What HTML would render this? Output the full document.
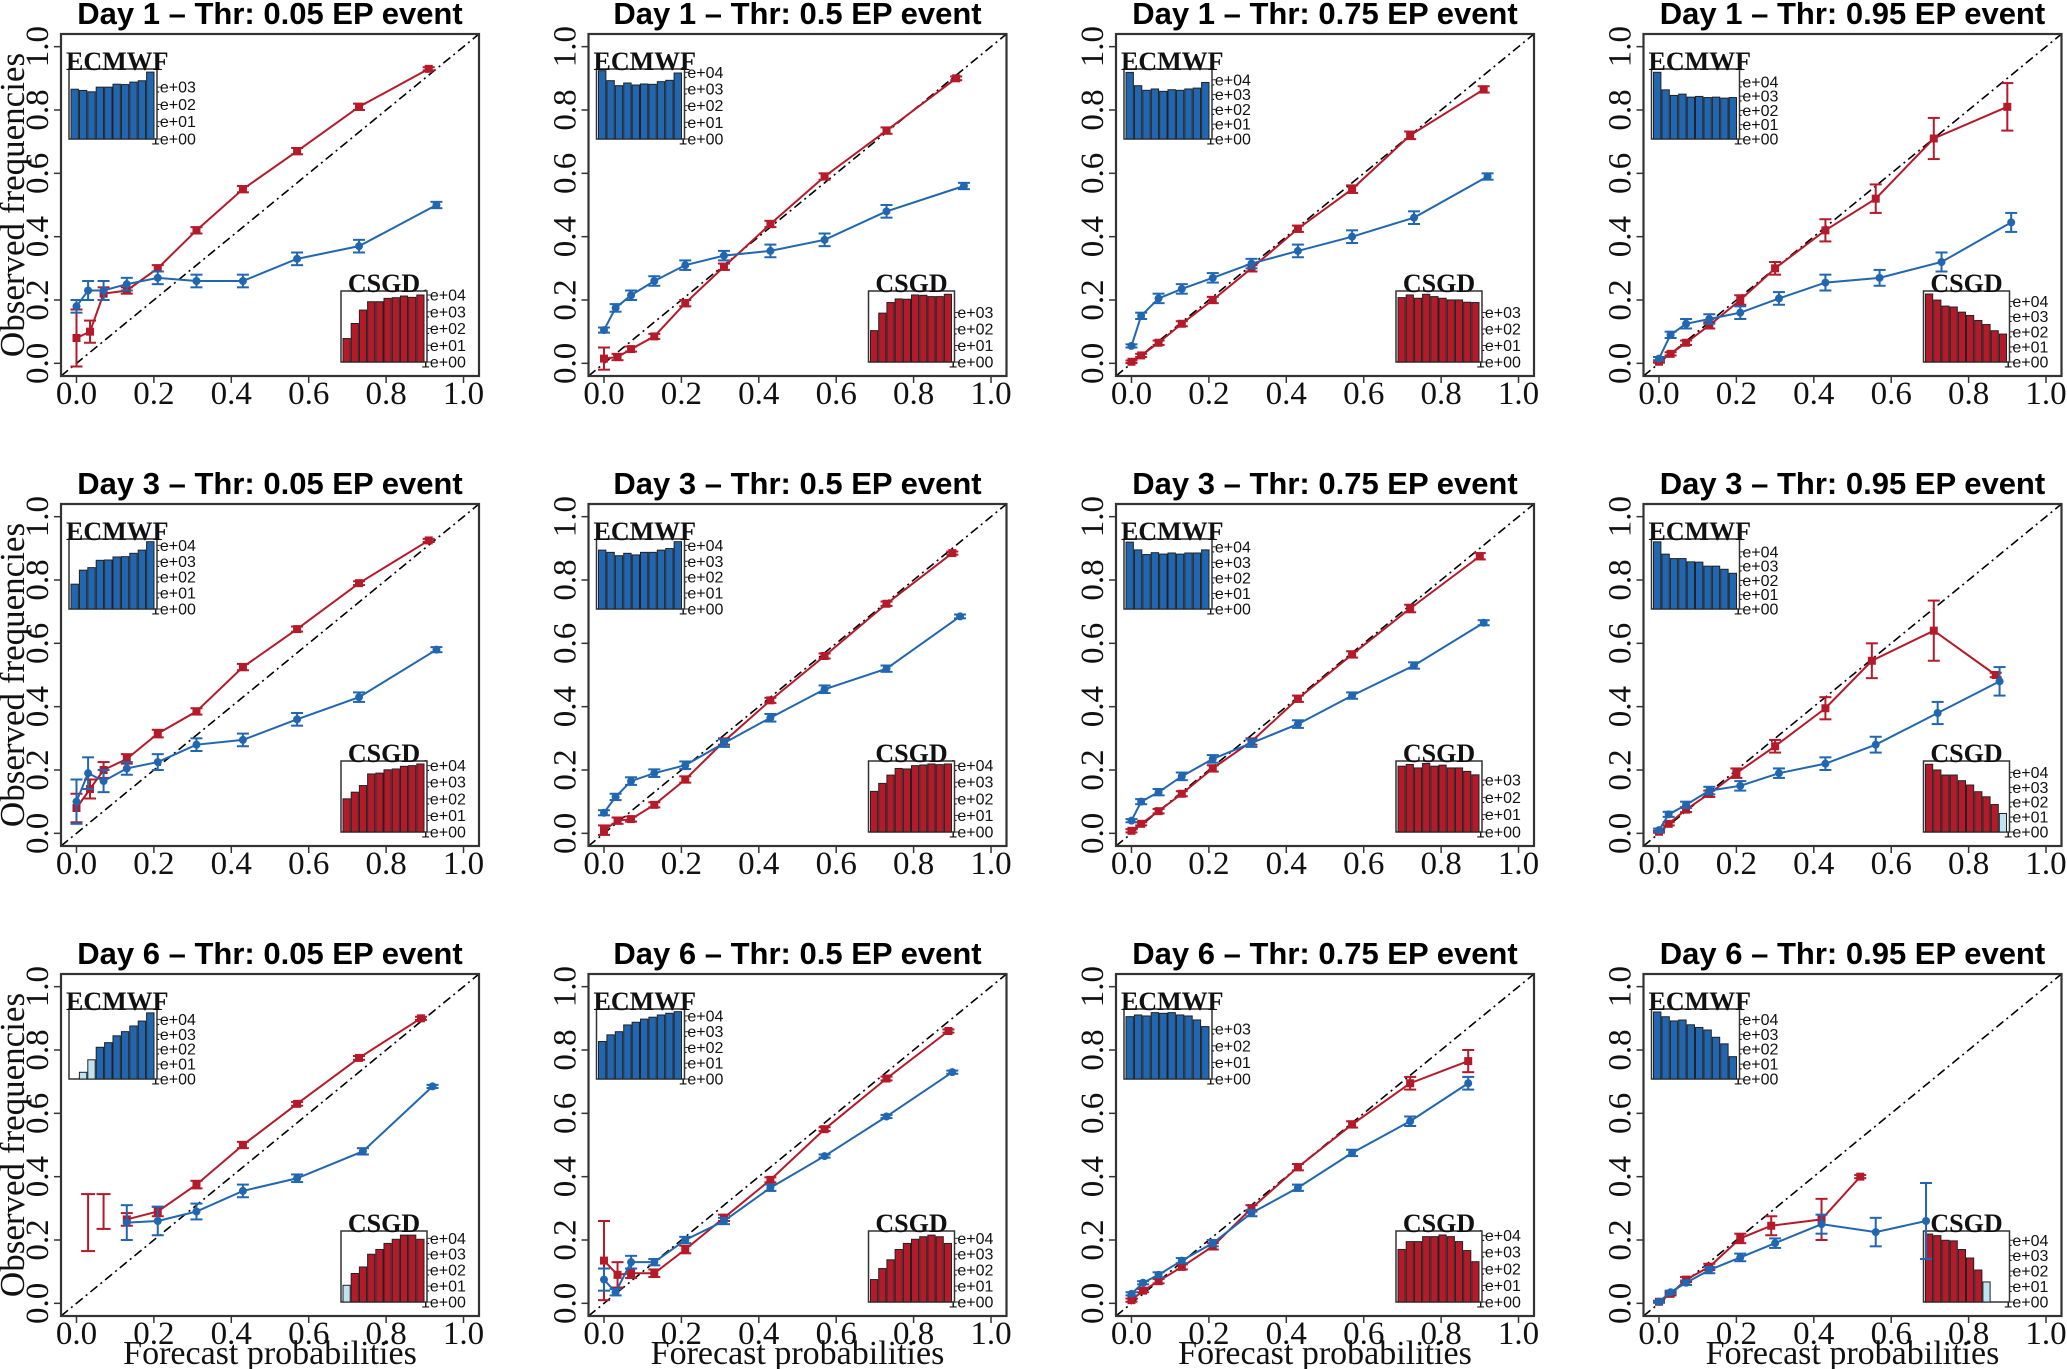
<!DOCTYPE html>
<html><head><meta charset="utf-8">
<style>
html,body{margin:0;padding:0;background:#fff;}
svg{display:block;}
</style></head>
<body>
<svg id="chart" width="2067" height="1369" viewBox="0 0 2067 1369" xmlns="http://www.w3.org/2000/svg"></svg>
<script>
const titles = ["Day 1 \u2013 Thr: 0.05 EP event","Day 1 \u2013 Thr: 0.5 EP event","Day 1 \u2013 Thr: 0.75 EP event","Day 1 \u2013 Thr: 0.95 EP event",
"Day 3 \u2013 Thr: 0.05 EP event","Day 3 \u2013 Thr: 0.5 EP event","Day 3 \u2013 Thr: 0.75 EP event","Day 3 \u2013 Thr: 0.95 EP event",
"Day 6 \u2013 Thr: 0.05 EP event","Day 6 \u2013 Thr: 0.5 EP event","Day 6 \u2013 Thr: 0.75 EP event","Day 6 \u2013 Thr: 0.95 EP event"];
const xTicks = [0,0.2,0.4,0.6,0.8,1.0];
const xTickLabels = ["0.0","0.2","0.4","0.6","0.8","1.0"];
const yTicks = [0,0.2,0.4,0.6,0.8,1.0];
const yTickLabels = ["0.0","0.2","0.4","0.6","0.8","1.0"];
const ecmX = [
[0,.03,.07,.13,.21,.31,.43,.57,.73,.93],[0,.03,.07,.13,.21,.31,.43,.57,.73,.93],[0,.025,.07,.13,.21,.31,.43,.57,.73,.92],[0,.03,.07,.13,.21,.31,.43,.57,.73,.91],
[0,.03,.07,.13,.21,.31,.43,.57,.73,.93],[0,.03,.07,.13,.21,.31,.43,.57,.73,.92],[0,.025,.07,.13,.21,.31,.43,.57,.73,.91],[0,.025,.07,.13,.21,.31,.43,.56,.72,.88],
[.13,.21,.31,.43,.57,.74,.92],[0,.03,.07,.13,.21,.31,.43,.57,.73,.90],[0,.03,.07,.13,.21,.31,.43,.57,.72,.87],[0,.03,.07,.13,.21,.30,.42,.56,.69]];
const ecmY = [
[.18,.23,.23,.25,.27,.26,.26,.33,.37,.50],[.105,.175,.215,.26,.31,.34,.355,.39,.48,.56],[.055,.15,.205,.235,.27,.315,.355,.40,.46,.59],[.015,.09,.125,.14,.16,.205,.255,.27,.32,.445],
[.10,.19,.165,.205,.225,.28,.295,.36,.43,.58],[.065,.115,.165,.19,.215,.285,.365,.455,.52,.685],[.04,.10,.13,.18,.235,.285,.345,.435,.53,.665],[.01,.06,.09,.135,.15,.19,.22,.28,.38,.48],
[.255,.26,.29,.355,.395,.48,.685],[.075,.035,.13,.13,.20,.26,.365,.465,.59,.73],[.03,.065,.09,.135,.19,.285,.365,.475,.575,.695],[.005,.035,.065,.105,.145,.19,.25,.225,.26]];
const ecmErr = [
[.02,.03,.03,.02,.02,.02,.02,.02,.02,.01],[.008,.012,.015,.015,.015,.015,.02,.02,.02,.01],[.005,.01,.015,.015,.015,.015,.02,.02,.02,.01],[.005,.01,.015,.015,.02,.02,.025,.025,.03,.03],
[.07,.05,.035,.02,.025,.02,.02,.02,.015,.008],[.008,.01,.012,.012,.012,.012,.012,.012,.01,.006],[.005,.008,.01,.012,.012,.012,.012,.01,.01,.008],[.005,.008,.01,.012,.015,.015,.02,.025,.035,.045],
[.055,.045,.025,.02,.012,.01,.005],[.035,.01,.02,.01,.01,.01,.01,.005,.005,.005],[.005,.005,.008,.008,.01,.01,.01,.01,.015,.02],[.003,.005,.007,.01,.012,.015,.03,.045,.12]];
const csgX = [
[0,.035,.07,.13,.21,.31,.43,.57,.73,.91],[0,.035,.07,.13,.21,.31,.43,.57,.73,.91],[0,.025,.07,.13,.21,.31,.43,.57,.72,.91],[0,.03,.07,.13,.21,.30,.43,.56,.71,.90],
[0,.035,.07,.13,.21,.31,.43,.57,.73,.91],[0,.035,.07,.13,.21,.31,.43,.57,.73,.90],[0,.025,.07,.13,.21,.31,.43,.57,.72,.90],[0,.025,.07,.13,.20,.30,.43,.55,.71,.87],
[.13,.21,.31,.43,.57,.73,.89],[0,.035,.07,.13,.21,.31,.43,.57,.73,.89],[0,.03,.07,.13,.21,.31,.43,.57,.72,.87],[0,.03,.07,.13,.21,.29,.42,.52]];
const csgY = [
[.08,.10,.22,.23,.30,.42,.55,.67,.81,.93],[.015,.02,.045,.085,.19,.305,.44,.59,.735,.90],[.005,.025,.065,.125,.20,.30,.425,.55,.72,.865],[.005,.03,.065,.12,.20,.30,.42,.52,.71,.81],
[.08,.14,.20,.235,.315,.385,.525,.645,.79,.925],[.01,.04,.045,.09,.17,.29,.42,.56,.725,.885],[.008,.03,.07,.125,.205,.29,.425,.565,.71,.875],[.005,.03,.075,.125,.19,.275,.395,.545,.64,.50],
[.265,.29,.375,.50,.63,.775,.90],[.135,.09,.095,.095,.17,.27,.39,.55,.71,.86],[.01,.04,.07,.115,.18,.30,.43,.565,.695,.765],[.005,.03,.075,.115,.205,.245,.265,.40]];
const csgErr = [
[.09,.035,.02,.01,.01,.01,.01,.01,.01,.005],[.035,.01,.008,.008,.01,.01,.01,.01,.01,.006],[.004,.005,.007,.008,.01,.01,.01,.012,.012,.01],[.003,.005,.007,.01,.015,.02,.035,.045,.065,.075],
[.045,.03,.025,.015,.012,.01,.01,.008,.006,.005],[.015,.01,.008,.008,.01,.01,.008,.008,.007,.005],[.005,.005,.007,.008,.01,.01,.01,.01,.012,.01],[.003,.005,.008,.01,.015,.02,.035,.055,.095,.007],
[.02,.015,.012,.01,.006,.006,.005],[.125,.04,.015,.012,.012,.01,.008,.006,.006,.005],[.005,.005,.007,.008,.01,.01,.01,.01,.02,.035],[.003,.005,.008,.01,.015,.03,.065,.005]];
// error bars without a plotted point: [panel, x, low, high]
const csgLoneBars = [[8,.03,.165,.345],[8,.07,.235,.345]];
// inset histograms, log10 counts
const ecmBars = [
[2.88,2.81,2.73,3.0,3.0,3.17,3.15,3.29,3.37,3.87],[4.1,3.5,3.2,3.36,3.24,3.3,3.28,3.44,3.52,3.96],[4.5,3.6,3.29,3.38,3.22,3.33,3.29,3.38,3.44,3.82],[4.67,3.44,3.05,3.14,2.93,2.98,2.9,2.93,2.86,2.9],
[1.56,2.44,2.6,3.06,3.08,3.27,3.29,3.5,3.7,4.23],[3.7,3.56,3.35,3.5,3.4,3.56,3.56,3.7,3.8,4.23],[4.3,3.8,3.5,3.62,3.53,3.6,3.53,3.6,3.6,3.8],[4.7,3.84,3.53,3.53,3.3,3.28,3.0,3.0,2.78,2.5],
[0,0.45,1.29,2.13,2.44,2.9,3.18,3.56,3.89,4.44],[2.38,2.8,3.0,3.43,3.6,3.8,3.92,4.06,4.17,4.27],[3.76,3.86,3.8,4.0,3.96,4.0,3.86,3.8,3.56,3.16],[4.5,4.18,3.9,3.96,3.64,3.46,3.29,2.8,2.36,1.5]];
const ecmTop = [4.05,4.2,4.73,4.9,4.4,4.4,4.5,4.9,4.7,4.44,4.22,4.7];
const ecmLabMax = [3,4,4,4,4,4,4,4,4,4,3,4];
const ecmLight = [[],[],[],[],[],[],[],[],[1,2],[],[],[]];
const csgBars = [
[1.4,2.3,3.1,3.6,3.6,3.8,3.84,3.94,3.86,4.0],[1.9,2.96,3.6,3.82,3.8,4.06,4.04,3.96,3.96,4.1],[3.9,4.06,3.86,4.1,3.96,3.86,3.76,3.76,3.62,3.6],[4.5,4.1,3.7,3.64,3.3,3.08,2.75,2.48,2.07,1.85],
[2.0,2.4,2.8,3.5,3.55,3.75,3.8,3.96,4.0,4.1],[2.45,2.93,3.43,3.83,3.8,4.0,4.04,4.1,4.06,4.1],[3.8,3.9,3.7,3.96,3.8,3.86,3.7,3.7,3.5,3.3],[4.54,4.16,3.82,3.82,3.44,3.15,2.7,2.36,1.84,1.24],
[1.05,1.79,2.2,3.0,3.3,3.68,3.94,4.2,4.2,3.94],[1.41,2.1,2.65,3.3,3.68,3.94,4.1,4.2,4.1,3.68],[3.17,3.64,3.64,3.94,3.94,4.04,3.94,3.64,3.1,2.43],[4.4,4.3,4.0,3.96,3.4,2.85,2.07,1.3,0,0]];
const csgTop = [4.24,4.3,4.3,4.7,4.28,4.28,4.1,4.76,4.46,4.46,4.28,4.6];
const csgLabMax = [4,3,3,4,4,4,3,4,4,4,4,4];
const csgLight = [[],[],[],[],[],[],[],[9],[0],[],[],[7]];

const svg = document.getElementById('chart');
const NS = 'http://www.w3.org/2000/svg';
function mk(tag, attrs, parent, text){
  const e = document.createElementNS(NS, tag);
  for (const k in attrs) e.setAttribute(k, attrs[k]);
  if (text !== undefined) e.textContent = text;
  (parent || svg).appendChild(e);
  return e;
}
const BLUE = '#2166b0', RED = '#b51a2a', LBLUE = '#bfe3f0';
const W = 418, H = 342;

function drawInset(g, bx, by, bw, bh, bars, top, labMax, light, color, label, labelAlign){
  const ig = mk('g', {}, g);
  
  
  const ys = v => by + bh - v / top * bh;
  for (let k = 0; k <= labMax; k++){
    const y = ys(k);
    mk('line', {x1:bx+bw, x2:bx+bw+4, y1:y, y2:y, stroke:'#333', 'stroke-width':1}, ig);
    mk('text', {x:bx+bw-6, y:y+5.5, 'font-family':'Liberation Sans, sans-serif', 'font-size':16, fill:'#111'}, ig, '1e+0' + k);
  }
  mk('rect', {x:bx, y:by, width:bw, height:bh, fill:'#fff', stroke:'#333', 'stroke-width':1.5}, ig);
  const n = bars.length, slot = (bw - 4) / n;
  bars.forEach((v, i) => {
    if (v <= 0) return;
    const r = mk('rect', {x: bx + 2 + i*slot, y: ys(v), width: slot - 1, height: by + bh - ys(v),
      fill: light.includes(i) ? LBLUE : color, stroke:'#222', 'stroke-width':1}, ig);
    
    
  });
  const t = mk('text', {x: labelAlign==='start' ? bx-3 : bx+bw/2, y: by+1, 'text-anchor': labelAlign,
    'font-family':'Liberation Serif, serif', 'font-weight':'bold', 'font-size':26, fill:'#111'}, ig, label);
  
  
}

function drawSeries(g, xs, ysArr, errs, color, marker, xp, yp, name){
  const sg = mk('g', {}, g);
  
  
  mk('polyline', {points: xs.map((x,i)=>xp(x)+','+yp(ysArr[i])).join(' '), fill:'none', stroke:color, 'stroke-width':2}, sg);
  xs.forEach((x,i)=>{
    const cx = xp(x), lo = yp(ysArr[i]-errs[i]), hi = yp(ysArr[i]+errs[i]);
    mk('line', {x1:cx, x2:cx, y1:lo, y2:hi, stroke:color, 'stroke-width':2}, sg);
    mk('line', {x1:cx-6, x2:cx+6, y1:lo, y2:lo, stroke:color, 'stroke-width':2}, sg);
    mk('line', {x1:cx-6, x2:cx+6, y1:hi, y2:hi, stroke:color, 'stroke-width':2}, sg);
    let p;
    if (marker === 'circle') p = mk('circle', {cx:cx, cy:yp(ysArr[i]), r:4, fill:color}, sg);
    else p = mk('rect', {x:cx-4, y:yp(ysArr[i])-4, width:8, height:8, fill:color}, sg);
    
    
  });
}

for (let p = 0; p < 12; p++){
  const r = Math.floor(p/4), c = p % 4;
  const L = 61 + c*527.5, T = 34 + r*470;
  const xp = v => L + (v + 0.04) / 1.08 * W;
  const yp = v => T + H - (v + 0.04) / 1.08 * H;
  const g = mk('g', {});
  
  

  const t = mk('text', {x:L+W/2, y:T-10, 'text-anchor':'middle', 'font-family':'Liberation Sans, sans-serif', 'font-weight':'bold', 'font-size':31, fill:'#000'}, g, titles[p]);
  
  

  const dg = mk('line', {x1:xp(-0.04), y1:yp(-0.04), x2:xp(1.04), y2:yp(1.04), stroke:'#000', 'stroke-width':1.6, 'stroke-dasharray':'9 4 2 4'}, g);
  
  

  xTicks.forEach((v,i)=>{
    mk('line', {x1:xp(v), x2:xp(v), y1:T+H, y2:T+H+7, stroke:'#333', 'stroke-width':1.5}, g);
    const tl = mk('text', {x:xp(v), y:T+H+28, 'text-anchor':'middle', 'font-family':'Liberation Serif, serif', 'font-size':33, fill:'#111'}, g, xTickLabels[i]);
    
    
  });
  yTicks.forEach((v,i)=>{
    mk('line', {x1:L-7, x2:L, y1:yp(v), y2:yp(v), stroke:'#333', 'stroke-width':1.5}, g);
    const tx = L-13, ty = yp(v);
    const tl = mk('text', {x:tx, y:ty, transform:'rotate(-90 '+tx+' '+ty+')', 'text-anchor':'middle', 'font-family':'Liberation Serif, serif', 'font-size':33, fill:'#111'}, g, yTickLabels[i]);
    
    
  });

  drawInset(g, L+8, T+35, 88, 70, ecmBars[p], ecmTop[p], ecmLabMax[p], ecmLight[p], BLUE, 'ECMWF', 'start');
  drawInset(g, L+280, T+257, 86, 71, csgBars[p], csgTop[p], csgLabMax[p], csgLight[p], RED, 'CSGD', 'middle');

  drawSeries(g, csgX[p], csgY[p], csgErr[p], RED, 'square', xp, yp, 'csgd-series');
  drawSeries(g, ecmX[p], ecmY[p], ecmErr[p], BLUE, 'circle', xp, yp, 'ecmwf-series');
  csgLoneBars.filter(b=>b[0]===p).forEach(b=>{
    const cx = xp(b[1]), lo = yp(b[2]), hi = yp(b[3]);
    mk('line', {x1:cx, x2:cx, y1:lo, y2:hi, stroke:RED, 'stroke-width':2}, g);
    mk('line', {x1:cx-7, x2:cx+7, y1:lo, y2:lo, stroke:RED, 'stroke-width':2}, g);
    mk('line', {x1:cx-7, x2:cx+7, y1:hi, y2:hi, stroke:RED, 'stroke-width':2}, g);
  });

  const box = mk('rect', {x:L, y:T, width:W, height:H, fill:'none', stroke:'#333', 'stroke-width':2.2}, g);
  
  

  if (c === 0){
    const yx = 24, yy = T + 171;
    const yl = mk('text', {x:yx, y:yy, transform:'rotate(-90 '+yx+' '+yy+')', 'text-anchor':'middle', 'font-family':'Liberation Serif, serif', 'font-size':35, fill:'#111'}, g, 'Observed frequencies');
    
    
  }
  if (r === 2){
    const xl = mk('text', {x:L+W/2, y:1364, 'text-anchor':'middle', 'font-family':'Liberation Serif, serif', 'font-size':34, fill:'#111'}, g, 'Forecast probabilities');
    
    
  }
}
</script>
</body></html>
